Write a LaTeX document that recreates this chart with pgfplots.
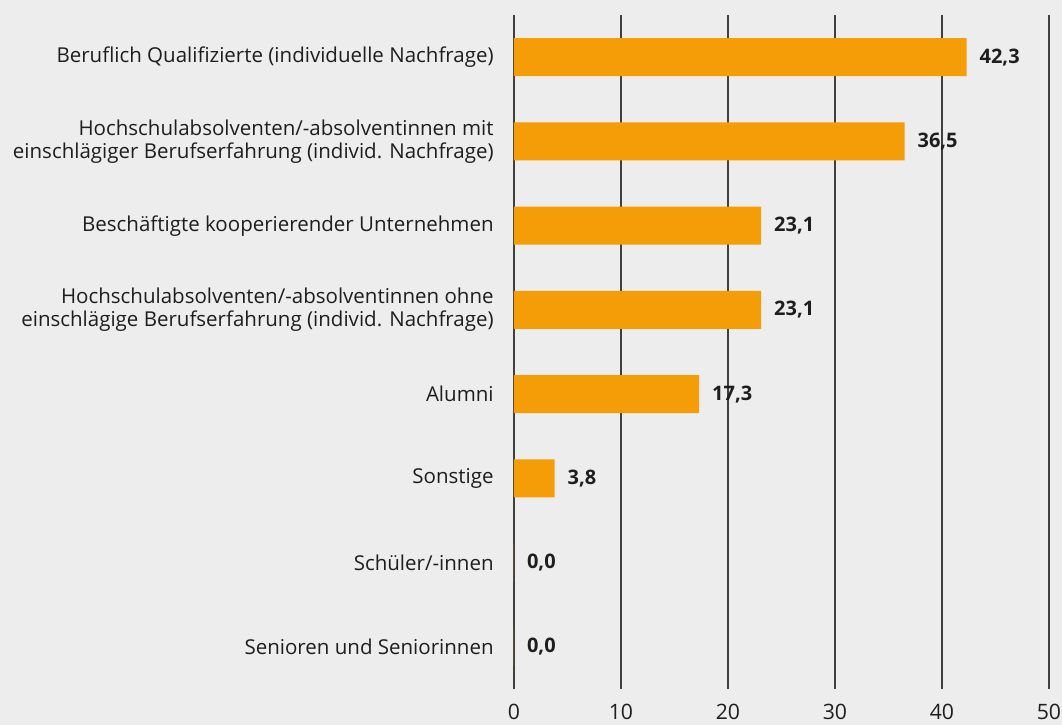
\documentclass[border=0pt]{standalone}
\usepackage{fontspec}
\setmainfont{Open Sans}
\usepackage{pgfplots}
\pgfplotsset{compat=1.18}
\definecolor{bgGray}{RGB}{237,237,237}
\definecolor{barOrange}{RGB}{245,157,7}
\definecolor{gridDark}{RGB}{64,64,64}
\definecolor{txt}{RGB}{30,30,30}

\begin{document}
\begin{tikzpicture}
\useasboundingbox[fill=bgGray] (-257pt,-18pt) rectangle (274pt,344.5pt);
\begin{axis}[
    at={(0,0)}, anchor=south west,
    scale only axis,
    width=267.5pt, height=337pt,
    xbar, bar width=19pt,
    xmin=0, xmax=50,
    ymin=-0.5, ymax=7.5,
    y dir=reverse,
    axis line style={draw=none},
    xmajorgrids,
    major grid style={gridDark, line width=0.75pt},
    xtick={0,10,20,30,40,50},
    ytick={0,...,7},
    yticklabels={
        {Beruflich Qualifizierte (individuelle Nachfrage)},
        {Hochschulabsolventen/-absolventinnen mit\\einschlägiger Berufserfahrung (individ. Nachfrage)},
        {Beschäftigte kooperierender Unternehmen},
        {Hochschulabsolventen/-absolventinnen ohne\\einschlägige Berufserfahrung (individ. Nachfrage)},
        {Alumni},
        {Sonstige},
        {Schüler/-innen},
        {Senioren und Seniorinnen}},
    yticklabel style={align=right, font=\fontsize{10.25pt}{11.6pt}\selectfont, text=txt, inner sep=0pt, xshift=-10pt},
    xticklabel style={font=\fontsize{10.6pt}{12pt}\selectfont, text=txt, yshift=-4pt},
    /pgf/number format/assume math mode=true,
    major tick length=0pt,
    clip=false,
    nodes near coords,
    every node near coord/.append style={font=\fontsize{10pt}{11pt}\selectfont\bfseries, text=txt, anchor=west, xshift=3pt},
    nodes near coords style={/pgf/number format/.cd, fixed, fixed zerofill, precision=1, use comma, assume math mode=true},
]
\addplot[fill=barOrange, draw=none] coordinates {
    (42.3,0) (36.5,1) (23.1,2) (23.1,3) (17.3,4) (3.8,5) (0.0,6) (0.0,7)
};
\end{axis}
\end{tikzpicture}
\end{document}
